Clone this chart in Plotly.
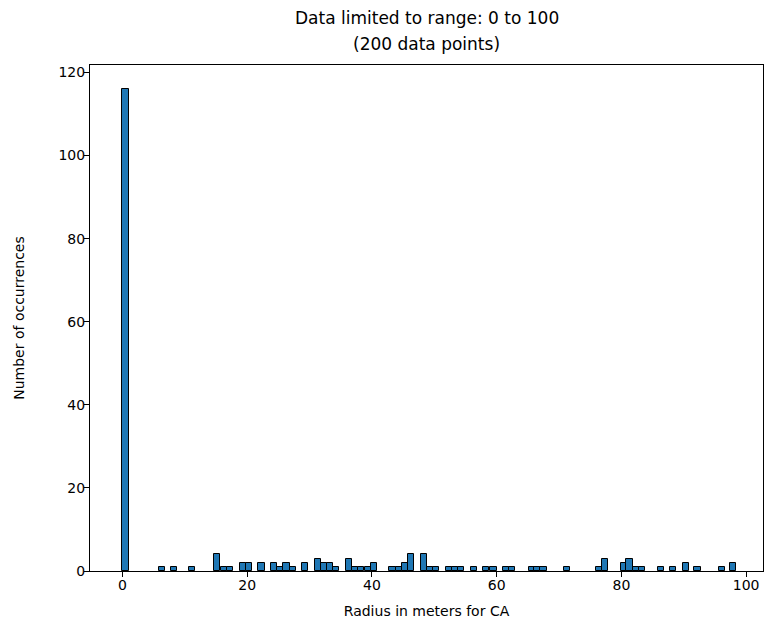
import plotly.graph_objects as go

# Histogram bins (centres, in metres) and counts
bin_centers = [0.49, 6.3, 8.3, 11.2, 15.2, 16.3, 17.3, 19.3, 20.3, 22.3, 24.3, 25.3,
               26.3, 27.3, 29.3, 31.3, 32.3, 33.3, 34.3, 36.3, 37.3, 38.3, 39.3, 40.3,
               43.3, 44.3, 45.3, 46.3, 48.3, 49.3, 50.3, 52.3, 53.3, 54.3, 56.3, 58.3,
               59.5, 61.5, 62.5, 65.6, 66.5, 67.5, 71.3, 76.4, 77.3, 80.4, 81.3, 82.3,
               83.3, 86.3, 88.2, 90.3, 92.2, 96.1, 97.9]
counts = [116, 1, 1, 1, 4, 1, 1, 2, 2, 2, 2, 1,
          2, 1, 2, 3, 2, 2, 1, 3, 1, 1, 1, 2,
          1, 1, 2, 4, 4, 1, 1, 1, 1, 1, 1, 1,
          1, 1, 1, 1, 1, 1, 1, 1, 3, 2, 3, 1,
          1, 1, 1, 2, 1, 1, 2]
bin_width = 0.98

x_ticks = [0, 20, 40, 60, 80, 100]
y_ticks = [0, 20, 40, 60, 80, 100, 120]

title_lines = ["Data limited to range: 0 to 100", "(200 data points)"]

fig = go.Figure(go.Bar(
    x=bin_centers, y=counts, width=bin_width,
    marker=dict(color="#1f77b4", line=dict(color="black", width=1)),
))

axis_common = dict(showline=True, linecolor="black", linewidth=1, mirror=True,
                   ticks="outside", ticklen=5, tickcolor="black", showgrid=False,
                   zeroline=False, ticklabelstandoff=-4,
                   tickfont=dict(family="DejaVu Sans", size=14, color="black"))

fig.update_layout(
    width=764, height=632,
    margin=dict(l=90, r=1, t=65, b=61),
    paper_bgcolor="white", plot_bgcolor="white",
    showlegend=False, bargap=0,
    font=dict(family="DejaVu Sans", color="black"),
    xaxis=dict(range=[-5.2, 102.7], tickvals=x_ticks,
               title=dict(text="Radius in meters for CA", standoff=14,
                          font=dict(family="DejaVu Sans", size=14)),
               **axis_common),
    yaxis=dict(range=[0, 121.8], tickvals=y_ticks,
               title=dict(text="Number of occurrences", standoff=30,
                          font=dict(family="DejaVu Sans", size=14)),
               **axis_common),
    annotations=[
        dict(text=title_lines[0], x=0.5, xref="paper", y=1.093, yref="paper",
             xanchor="center", yanchor="middle", showarrow=False,
             font=dict(family="DejaVu Sans", size=17, color="black")),
        dict(text=title_lines[1], x=0.5, xref="paper", y=1.0415, yref="paper",
             xanchor="center", yanchor="middle", showarrow=False,
             font=dict(family="DejaVu Sans", size=17, color="black")),
    ],
)

fig.write_html("out.html")
